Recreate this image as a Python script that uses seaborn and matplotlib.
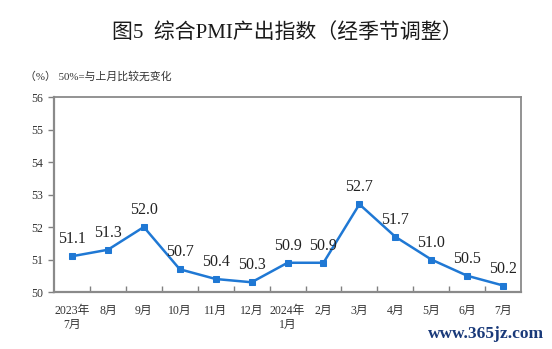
import matplotlib
matplotlib.use("Agg")
import matplotlib.pyplot as plt
import seaborn as sns
import pandas as pd

months = ["2023年\n7月", "8月", "9月", "10月", "11月", "12月", "2024年\n1月",
          "2月", "3月", "4月", "5月", "6月", "7月"]
values = [51.1, 51.3, 52.0, 50.7, 50.4, 50.3, 50.9, 50.9, 52.7, 51.7, 51.0, 50.5, 50.2]
yticks = [50, 51, 52, 53, 54, 55, 56]

sns.set_theme(style="white")
fam = ["Liberation Serif", "Noto Sans CJK SC"]
plt.rcParams["font.family"] = fam

df = pd.DataFrame({"x": range(len(values)), "v": values})

fig = plt.figure(figsize=(5.52, 3.49), dpi=100)
ax = fig.add_axes([0.0978, 0.1633, 0.8462, 0.5587])
color = "#1f78d4"
sns.lineplot(data=df, x="x", y="v", ax=ax, color=color, linewidth=1.8,
             marker="s", markersize=5, markeredgecolor=color)

for i, v in enumerate(values):
    ax.text(i, v + 0.27, f"{v:.1f}", ha="center", va="bottom",
            fontsize=11.5, color="#222222")

ax.set_xlim(-0.5, len(values) - 0.5)
ax.set_ylim(50, 56)
ax.set_yticks(yticks)
ax.set_yticklabels([str(t) for t in yticks], fontsize=8.5, color="#333333")
ax.set_xticks(range(len(values)))
ax.set_xticklabels(months, fontsize=8.5, color="#333333", linespacing=1.25)
ax.tick_params(axis="x", length=0, pad=9)
ax.tick_params(axis="y", direction="out", length=4, width=1, color="#808080", left=True, pad=4)
ax.set_xticks([i + 0.5 for i in range(len(values) - 1)], minor=True)
ax.tick_params(axis="x", which="minor", direction="in", length=4, width=1,
               color="#808080", bottom=True)
ax.set_xlabel("")
ax.set_ylabel("")
for s in ax.spines.values():
    s.set_color("#8a8a8a")
    s.set_linewidth(1.3)
ax.spines["bottom"].set_linewidth(1.6)
ax.spines["left"].set_linewidth(1.6)

fig.text(0.52, 0.905, "图5  综合PMI产出指数（经季节调整）", ha="center", va="center",
         fontsize=15, color="#1a1a1a")
fig.text(0.045, 0.78, "（%） 50%=与上月比较无变化", ha="left", va="center",
         fontsize=7.8, color="#333333")
fig.text(0.985, 0.042, "www.365jz.com", ha="right", va="center", fontsize=12.5,
         color="#1a3a7a", fontweight="bold", family=["Liberation Serif"])

fig.savefig("out.png", dpi=100)
